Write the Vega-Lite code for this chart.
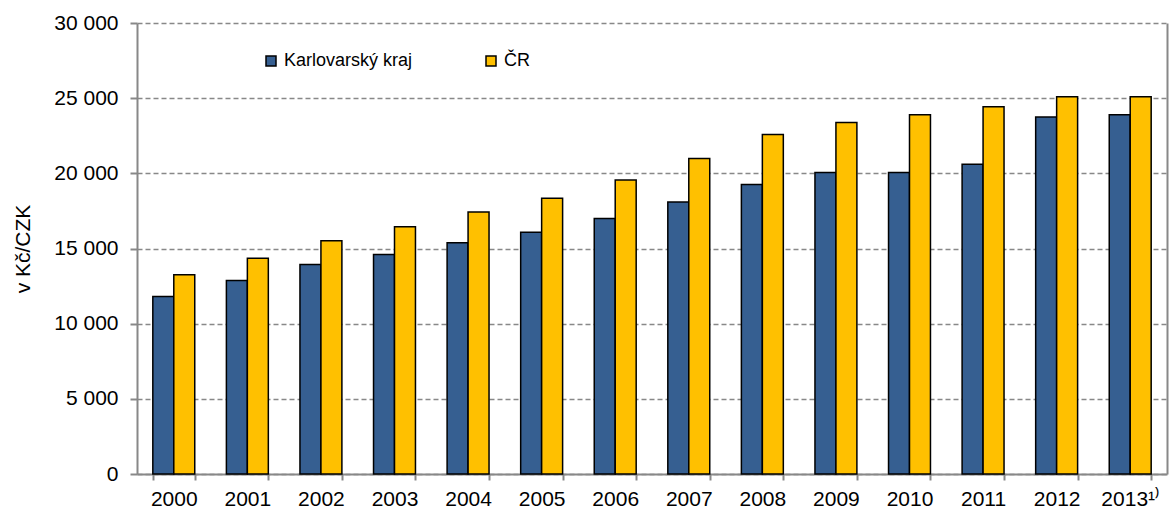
{
  "$schema": "https://vega.github.io/schema/vega-lite/v6.json",
  "width": 1030,
  "height": 451,
  "autosize": "none",
  "padding": {"left": 137, "top": 23, "right": 2, "bottom": 37},
  "background": "white",
  "config": {
    "font": "Liberation Sans",
    "view": {"stroke": null}
  },
  "data": {
    "values": [
      {"rok": "2000", "rada": "Karlovarský kraj", "mzda": 11800},
      {"rok": "2000", "rada": "ČR", "mzda": 13250},
      {"rok": "2001", "rada": "Karlovarský kraj", "mzda": 12870},
      {"rok": "2001", "rada": "ČR", "mzda": 14350},
      {"rok": "2002", "rada": "Karlovarský kraj", "mzda": 13940},
      {"rok": "2002", "rada": "ČR", "mzda": 15520},
      {"rok": "2003", "rada": "Karlovarský kraj", "mzda": 14600},
      {"rok": "2003", "rada": "ČR", "mzda": 16450},
      {"rok": "2004", "rada": "Karlovarský kraj", "mzda": 15380},
      {"rok": "2004", "rada": "ČR", "mzda": 17420},
      {"rok": "2005", "rada": "Karlovarský kraj", "mzda": 16080},
      {"rok": "2005", "rada": "ČR", "mzda": 18350},
      {"rok": "2006", "rada": "Karlovarský kraj", "mzda": 17000},
      {"rok": "2006", "rada": "ČR", "mzda": 19550},
      {"rok": "2007", "rada": "Karlovarský kraj", "mzda": 18100},
      {"rok": "2007", "rada": "ČR", "mzda": 20980},
      {"rok": "2008", "rada": "Karlovarský kraj", "mzda": 19250},
      {"rok": "2008", "rada": "ČR", "mzda": 22590},
      {"rok": "2009", "rada": "Karlovarský kraj", "mzda": 20050},
      {"rok": "2009", "rada": "ČR", "mzda": 23380},
      {"rok": "2010", "rada": "Karlovarský kraj", "mzda": 20050},
      {"rok": "2010", "rada": "ČR", "mzda": 23900},
      {"rok": "2011", "rada": "Karlovarský kraj", "mzda": 20600},
      {"rok": "2011", "rada": "ČR", "mzda": 24430},
      {"rok": "2012", "rada": "Karlovarský kraj", "mzda": 23750},
      {"rok": "2012", "rada": "ČR", "mzda": 25100},
      {"rok": "2013¹⁾", "rada": "Karlovarský kraj", "mzda": 23900},
      {"rok": "2013¹⁾", "rada": "ČR", "mzda": 25100}
    ]
  },
  "layer": [
    {
      "mark": {"type": "bar", "stroke": "black", "strokeWidth": 1.5},
      "encoding": {
        "x": {
          "field": "rok",
          "type": "nominal",
          "sort": null,
          "scale": {"paddingInner": 0.43, "paddingOuter": 0.215},
          "axis": {
            "title": null,
            "labelAngle": 0,
            "labelFontSize": 21,
            "labelColor": "black",
            "labelPadding": 8,
            "tickBand": "extent",
            "tickSize": 6,
            "tickColor": "#888",
            "tickWidth": 2,
            "domainColor": "#888",
            "domainWidth": 2
          }
        },
        "xOffset": {
          "field": "rada",
          "type": "nominal",
          "sort": ["Karlovarský kraj", "ČR"],
          "scale": {"paddingInner": 0, "paddingOuter": 0}
        },
        "y": {
          "field": "mzda",
          "type": "quantitative",
          "scale": {"domain": [0, 30000], "nice": false},
          "axis": {
            "title": "v Kč/CZK",
            "titleFontSize": 21,
            "titleFontWeight": "normal",
            "titleColor": "black",
            "titlePadding": 20,
            "values": [0, 5000, 10000, 15000, 20000, 25000, 30000],
            "labelExpr": "replace(format(datum.value, ','), ',', ' ')",
            "labelFontSize": 21,
            "labelColor": "black",
            "labelPadding": 12,
            "tickSize": 7,
            "tickColor": "#888",
            "tickWidth": 2,
            "domainColor": "#888",
            "domainWidth": 2,
            "grid": true,
            "gridColor": "#888",
            "gridWidth": 1.3,
            "gridDash": [5, 3]
          }
        },
        "color": {
          "field": "rada",
          "type": "nominal",
          "sort": ["Karlovarský kraj", "ČR"],
          "scale": {"domain": ["Karlovarský kraj", "ČR"], "range": ["#365F91", "#FFC000"]},
          "legend": {
            "title": null,
            "orient": "none",
            "legendX": 125,
            "legendY": 29,
            "direction": "horizontal",
            "symbolType": "square",
            "symbolSize": 100,
            "symbolStrokeColor": "black",
            "symbolStrokeWidth": 1.5,
            "labelFontSize": 18,
            "labelColor": "black",
            "labelOffset": 4,
            "columnPadding": 69
          }
        }
      }
    },
    {
      "mark": {"type": "rule", "strokeOpacity": 0},
      "encoding": {
        "y": {
          "datum": 0,
          "type": "quantitative",
          "axis": {
            "orient": "right",
            "title": null,
            "labels": false,
            "ticks": false,
            "grid": false,
            "domainColor": "#888",
            "domainWidth": 2
          }
        }
      }
    }
  ],
  "resolve": {"axis": {"y": "independent"}}
}
